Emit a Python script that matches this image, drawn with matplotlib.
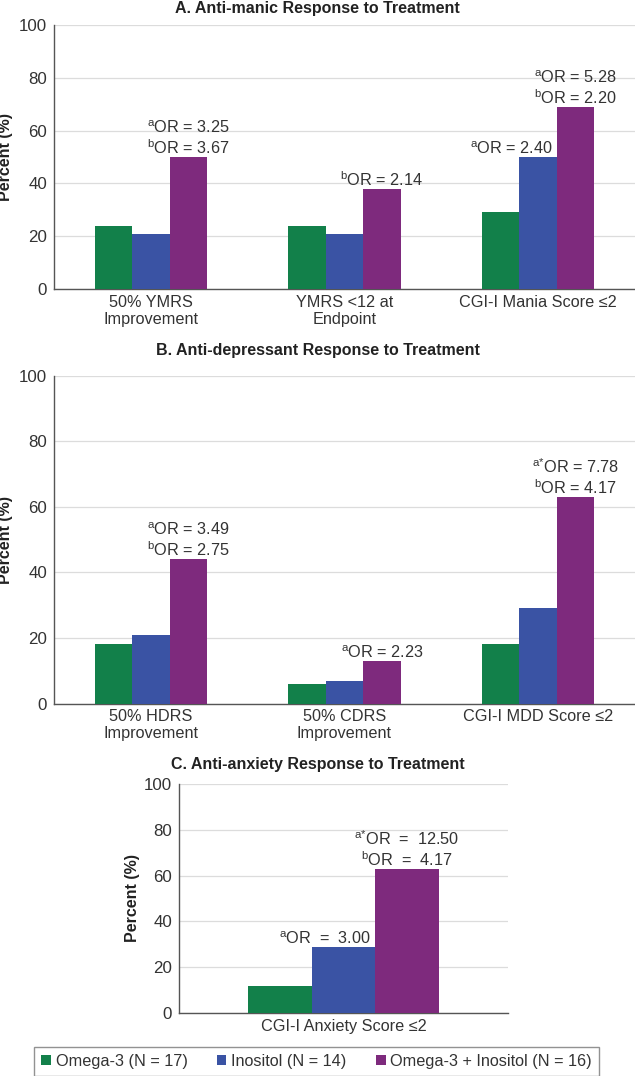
import matplotlib
matplotlib.use("Agg")
import matplotlib.pyplot as plt
import numpy as np
from matplotlib.patches import Patch

plt.rcParams['font.family'] = ['Liberation Sans', 'DejaVu Sans']
plt.rcParams['mathtext.fontset'] = 'custom'
plt.rcParams['mathtext.rm'] = 'Liberation Sans'
plt.rcParams['mathtext.it'] = 'Liberation Sans:italic'
plt.rcParams['mathtext.bf'] = 'Liberation Sans:bold'

series = ["Omega-3 (N = 17)", "Inositol (N = 14)", "Omega-3 + Inositol (N = 16)"]
colors = ["#12804A", "#3A53A4", "#7E2A7D"]

cats_a = ["50% YMRS\nImprovement", "YMRS <12 at\nEndpoint", "CGI-I Mania Score \u22642"]
omega_a = [24, 24, 29]
inositol_a = [21, 21, 50]
combo_a = [50, 38, 69]

cats_b = ["50% HDRS\nImprovement", "50% CDRS\nImprovement", "CGI-I MDD Score \u22642"]
omega_b = [18, 6, 18]
inositol_b = [21, 7, 29]
combo_b = [44, 13, 63]

cats_c = ["CGI-I Anxiety Score \u22642"]
omega_c = [12]
inositol_c = [29]
combo_c = [63]

# annotations: (category index, series index, text)
ann_a = [(0, 2, "$^{\\mathrm{a}}$OR = 3.25\n$^{\\mathrm{b}}$OR = 3.67"),
         (1, 2, "$^{\\mathrm{b}}$OR = 2.14"),
         (2, 1, "$^{\\mathrm{a}}$OR = 2.40"),
         (2, 2, "$^{\\mathrm{a}}$OR = 5.28\n$^{\\mathrm{b}}$OR = 2.20")]
ann_b = [(0, 2, "$^{\\mathrm{a}}$OR = 3.49\n$^{\\mathrm{b}}$OR = 2.75"),
         (1, 2, "$^{\\mathrm{a}}$OR = 2.23"),
         (2, 2, "$^{\\mathrm{a}{*}}$OR = 7.78\n$^{\\mathrm{b}}$OR = 4.17")]
ann_c = [(0, 1, "$^{\\mathrm{a}}$OR  =  3.00"),
         (0, 2, "$^{\\mathrm{a}{*}}$OR  =  12.50\n$^{\\mathrm{b}}$OR  =  4.17")]

W, H = 635, 1076
fig = plt.figure(figsize=(W / 100, H / 100), dpi=100)

def box(l, t, r, b):
    return [l / W, 1 - b / H, (r - l) / W, (b - t) / H]

FS = 11.7
TXT = "#333333"
BW = 0.193

def panel(rect, cats, vals, anns, title_y, title, ylabel_x):
    ax = fig.add_axes(rect)
    x = np.arange(len(cats))
    bars = []
    for i, (v, c) in enumerate(zip(vals, colors)):
        b = ax.bar(x + (i - 1) * BW, v, BW, color=c, edgecolor='none', zorder=3)
        bars.append(b)
    ax.set_xlim(-0.5, len(cats) - 0.5)
    ax.set_ylim(0, 100)
    ax.set_yticks([0, 20, 40, 60, 80, 100])
    ax.yaxis.grid(True, color="#DCDCDC", lw=0.9, zorder=0)
    ax.set_axisbelow(True)
    for s in ['top', 'right']:
        ax.spines[s].set_visible(False)
    for s in ['left', 'bottom']:
        ax.spines[s].set_color("#555555")
        ax.spines[s].set_linewidth(1.0)
    ax.set_xticks(x)
    ax.set_xticklabels(cats, fontsize=FS, color=TXT, linespacing=1.2)
    ax.tick_params(axis='both', length=0, colors=TXT)
    ax.tick_params(axis='y', labelsize=12.2, pad=5)
    ax.tick_params(axis='x', pad=4)
    ax.set_ylabel("Percent (%)", fontsize=11.5, fontweight='bold', color="#222222")
    ax.yaxis.set_label_coords(ylabel_x, 0.5)
    fig.text(0.5, title_y, title, ha='center', va='center', fontsize=11.5,
             fontweight='bold', color="#222222")
    for ci, si, txt in anns:
        rect_ = bars[si][ci]
        h = rect_.get_height()
        cx = rect_.get_x() + rect_.get_width() / 2
        if si == 1:
            ax.annotate(txt, xy=(rect_.get_x() + rect_.get_width(), h),
                        xytext=(-3, 0), textcoords='offset points',
                        ha='right', va='bottom', fontsize=FS, color=TXT,
                        linespacing=1.15)
        else:
            ax.annotate(txt, xy=(cx, h), xytext=(0, 0), textcoords='offset points',
                        ha='center', va='bottom', fontsize=FS, color=TXT,
                        linespacing=1.15)
    return ax

panel(box(54, 25, 635, 289), cats_a, [omega_a, inositol_a, combo_a], ann_a,
      1 - 9 / H, "A. Anti-manic Response to Treatment", -0.07)
panel(box(54, 375.5, 635, 703.5), cats_b, [omega_b, inositol_b, combo_b], ann_b,
      1 - 351 / H, "B. Anti-depressant Response to Treatment", -0.07)
panel(box(179, 784, 508, 1013), cats_c, [omega_c, inositol_c, combo_c], ann_c,
      1 - 765 / H, "C. Anti-anxiety Response to Treatment", -0.12)

handles = [Patch(facecolor=c, edgecolor='none') for c in colors]
leg = fig.legend(handles, series, loc='center',
                 bbox_to_anchor=(316.5 / W, 1 - 1061.5 / H),
                 ncol=3, fontsize=FS, frameon=True, fancybox=False,
                 handlelength=0.6, handleheight=0.6, handletextpad=0.3,
                 borderpad=0.45, columnspacing=1.8, borderaxespad=0)
leg.get_frame().set_edgecolor("#777777")
leg.get_frame().set_linewidth(1.0)
for t in leg.get_texts():
    t.set_color(TXT)

fig.savefig("out.png", dpi=100)
